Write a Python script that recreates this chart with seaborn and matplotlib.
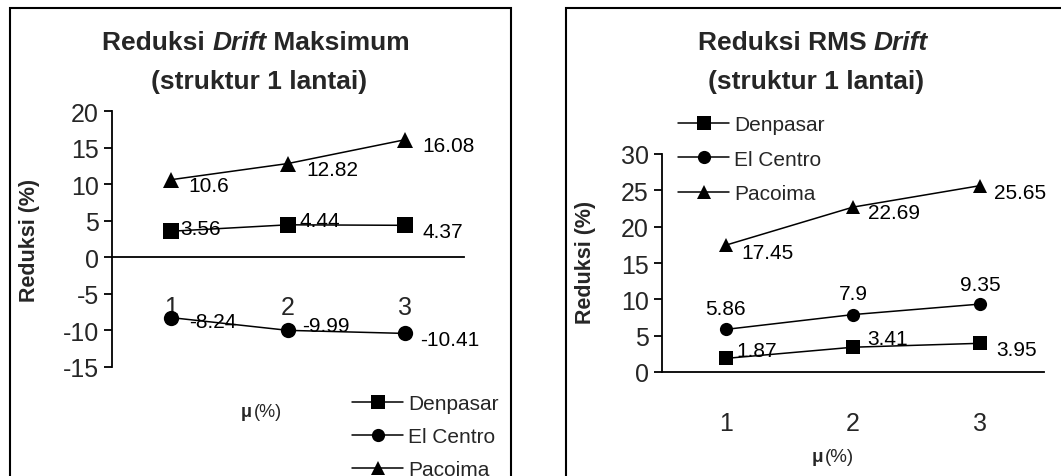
import numpy as np
import pandas as pd
import matplotlib
matplotlib.use("Agg")
import matplotlib.pyplot as plt
import seaborn as sns
from matplotlib.lines import Line2D
from matplotlib.patches import Rectangle

# ---------------- data ----------------
mu = [1, 2, 3]
series = ["Denpasar", "El Centro", "Pacoima"]
max_denpasar = [3.56, 4.44, 4.37]
max_elcentro = [-8.24, -9.99, -10.41]
max_pacoima = [10.6, 12.82, 16.08]
rms_denpasar = [1.87, 3.41, 3.95]
rms_elcentro = [5.86, 7.9, 9.35]
rms_pacoima = [17.45, 22.69, 25.65]
max_yticks = [-15, -10, -5, 0, 5, 10, 15, 20]
rms_yticks = [0, 5, 10, 15, 20, 25, 30]
xtick_labels = ["1", "2", "3"]

markers = {"Denpasar": "s", "El Centro": "o", "Pacoima": "^"}

def long_df(a, b, c):
    return pd.DataFrame({
        "mu": mu * 3,
        "val": list(a) + list(b) + list(c),
        "series": [series[0]] * 3 + [series[1]] * 3 + [series[2]] * 3,
    })

df_max = long_df(max_denpasar, max_elcentro, max_pacoima)
df_rms = long_df(rms_denpasar, rms_elcentro, rms_pacoima)

# label offsets in pixels (dx to label left / centre, dy downward)
max_offsets = {
    "Denpasar": [(10, -3, "left"), (12, -4, "left"), (17, 6, "left")],
    "El Centro": [(18, 4, "left"), (14, -5, "left"), (15, 6, "left")],
    "Pacoima": [(18, 6, "left"), (18, 6, "left"), (17, 6, "left")],
}
rms_offsets = {
    "Denpasar": [(11, -8, "left"), (14, -9, "left"), (16, 6, "left")],
    "El Centro": [(0, -21, "center"), (0, -21, "center"), (0, -20, "center")],
    "Pacoima": [(16, 7, "left"), (15, 5, "left"), (14, 7, "left")],
}

# ---------------- style ----------------
sns.set_style("white")
plt.rcParams["font.family"] = ["Liberation Sans", "DejaVu Sans"]

W, H = 1061, 477
fig = plt.figure(figsize=(W / 100, H / 100), dpi=100)

def fx(x):
    return x / W

def fy(y):
    return 1 - y / H

def px_axes(x0, y0, x1, y1):
    return fig.add_axes([fx(x0), fy(y1), fx(x1 - x0), (y1 - y0) / H])

TICK_FS = 18
LABEL_FS = 15
LW_AX = 1.3
LW_LINE = 1.1

def style_axes(ax, ylim, yticks, zero_spine, pad_x):
    for s in ["top", "right"]:
        ax.spines[s].set_visible(False)
    for s in ["left", "bottom"]:
        ax.spines[s].set_color("black")
        ax.spines[s].set_linewidth(LW_AX)
    if zero_spine:
        ax.spines["bottom"].set_position(("data", 0))
    ax.set_xlim(0.5, 3.5)
    ax.set_ylim(*ylim)
    ax.set_yticks(yticks)
    ax.set_yticklabels([str(t) for t in yticks], fontsize=TICK_FS)
    ax.set_xticks([0.5, 1.5, 2.5, 3.5])
    ax.set_xticklabels([])
    ax.set_xticks([1, 2, 3], minor=True)
    ax.set_xticklabels(xtick_labels, minor=True, fontsize=TICK_FS)
    ax.tick_params(axis="x", which="major", direction="out", length=5.5,
                   width=LW_AX, color="black")
    ax.tick_params(axis="x", which="minor", length=0, pad=pad_x)
    ax.tick_params(axis="y", direction="out", length=5.5, width=LW_AX,
                   color="black", pad=4, left=True)
    ax.set_xlabel("")
    ax.set_ylabel("")
    ax.grid(False)
    ax.patch.set_alpha(0)

def draw(ax, df, msize, offsets):
    sns.lineplot(data=df, x="mu", y="val", hue="series", style="series",
                 markers=markers, dashes=False,
                 palette={s: "black" for s in series},
                 markersize=msize, markeredgewidth=0, markeredgecolor="black",
                 linewidth=LW_LINE, legend=False, ax=ax, clip_on=False)
    for s in series:
        sub = df[df["series"] == s]
        for (x, v), (dx, dy, ha) in zip(zip(sub["mu"], sub["val"]), offsets[s]):
            ax.annotate(f"{v:g}", (x, v), xytext=(dx, -dy),
                        textcoords="offset pixels", ha=ha, va="center",
                        fontsize=LABEL_FS, color="black")

# Left panel
ax1 = px_axes(112, 112, 464, 368)
draw(ax1, df_max, 11, max_offsets)
style_axes(ax1, (-15, 20), max_yticks, True, 27)

# Right panel
ax2 = px_axes(662, 155, 1044, 373)
draw(ax2, df_rms, 9.5, rms_offsets)
style_axes(ax2, (0, 30), rms_yticks, False, 28)

# Frames
fig.add_artist(Rectangle((fx(10), -0.2), fx(501), fy(9) + 0.2,
                         transform=fig.transFigure, fill=False,
                         edgecolor="black", linewidth=1.5))
fig.add_artist(Rectangle((fx(566), -0.2), 0.8, fy(9) + 0.2,
                         transform=fig.transFigure, fill=False,
                         edgecolor="black", linewidth=1.5))

TITLE_FS = 19

def rich_line(cx, y, pieces, fs):
    renderer = fig.canvas.get_renderer()
    widths = []
    texts = []
    for txt, st in pieces:
        t = fig.text(0, fy(y), txt, fontsize=fs, fontweight="bold",
                     fontstyle=st, ha="left", va="baseline")
        texts.append(t)
        widths.append(t.get_window_extent(renderer).width)
    total = sum(widths)
    x = cx - total / 2
    for t, w in zip(texts, widths):
        t.set_x(fx(x))
        x += w

rich_line(256, 50, [("Reduksi ", "normal"), ("Drift", "italic"), (" Maksimum", "normal")], TITLE_FS)
rich_line(259, 89, [("(struktur 1 lantai)", "normal")], TITLE_FS)
rich_line(813, 50, [("Reduksi RMS ", "normal"), ("Drift", "italic")], TITLE_FS)
rich_line(816, 89, [("(struktur 1 lantai)", "normal")], TITLE_FS)

# Y labels
fig.text(fx(29), fy(240), "Reduksi (%)", rotation=90, ha="center", va="center",
         fontsize=15.5, fontweight="bold")
fig.text(fx(585), fy(262), "Reduksi (%)", rotation=90, ha="center", va="center",
         fontsize=15.5, fontweight="bold")

# X labels: bold mu + regular (%)
def xlabel(x_mu, y, fs):
    fig.text(fx(x_mu), fy(y), "\u03bc", fontsize=fs, fontweight="bold",
             ha="left", va="center")
    fig.text(fx(x_mu + 13), fy(y), "(%)", fontsize=fs, ha="left", va="center")

xlabel(241, 413, 13)
xlabel(812, 458, 13.5)

# Legends
handles = [Line2D([0], [0], color="black", lw=LW_LINE, marker=markers[s],
                  markersize=9.5, markeredgewidth=0) for s in series]
fig.legend(handles, series, loc="upper left",
           bbox_to_anchor=(fx(352), fy(395)), frameon=False, fontsize=15,
           handlelength=2.45, handletextpad=0.25, labelspacing=0.68,
           borderpad=0, borderaxespad=0)
fig.legend(handles, series, loc="upper left",
           bbox_to_anchor=(fx(678), fy(116)), frameon=False, fontsize=15,
           handlelength=2.45, handletextpad=0.25, labelspacing=0.75,
           borderpad=0, borderaxespad=0)

fig.savefig("out.png", dpi=100)
